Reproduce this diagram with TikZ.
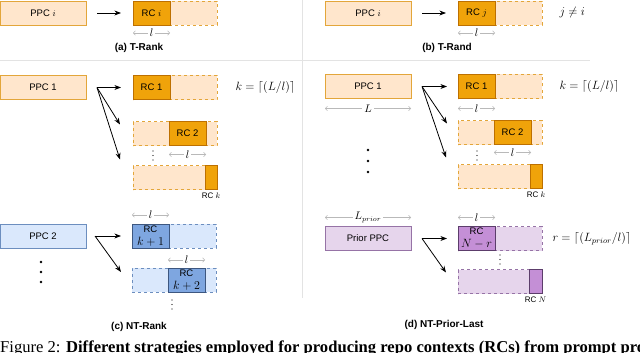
\documentclass[tikz,border=0pt]{standalone}
\usepackage{fontspec}
\setmainfont{Liberation Sans}
\newfontfamily\capfont{Liberation Serif}
\usetikzlibrary{arrows.meta,positioning,calc}
\definecolor{orpale}{HTML}{FFE6CC}
\definecolor{oredge}{HTML}{E3A63A}
\definecolor{ordeep}{HTML}{F0A30A}
\definecolor{ordeepedge}{HTML}{BD7000}
\definecolor{blpale}{HTML}{DAE8FC}
\definecolor{bledge}{HTML}{6C8EBF}
\definecolor{bldeep}{HTML}{7EA6E0}
\definecolor{bldeepedge}{HTML}{3D5780}
\definecolor{pupale}{HTML}{E6D5EC}
\definecolor{puedge}{HTML}{9673A6}
\definecolor{pudeep}{HTML}{C48FD6}
\definecolor{pudeepedge}{HTML}{5C3D6B}
\begin{document}
\begin{tikzpicture}[
  x=1pt, y=-1pt,
  >=Stealth,
  node distance=22pt and 47pt,
  every node/.style={font=\fontsize{9.5}{11}\selectfont},
  ppc/.style={draw=#1edge, fill=#1pale, line width=0.8pt, minimum width=86pt, minimum height=24pt, inner sep=0pt, outer sep=0pt},
  ppc/.default=or,
  rowbox/.style={ppc=#1, dashed, minimum width=84pt},
  rowbox/.default=or,
  rc/.style={draw=#1deepedge, fill=#1deep, line width=0.8pt, minimum width=37pt, minimum height=24pt, inner sep=0pt, outer sep=0pt, align=center, font=\fontsize{9.5}{13}\selectfont},
  rc/.default=or,
  big/.style={font=\fontsize{12}{12}\selectfont},
  small/.style={font=\fontsize{8}{9}\selectfont, inner sep=0pt},
  panel/.style={font=\bfseries\fontsize{10}{12}\selectfont},
  dimline/.style={draw=gray!55, line width=0.6pt, {Straight Barb[length=2pt,width=4.5pt]}-{Straight Barb[length=2pt,width=4.5pt]}},
  dimlab/.style={fill=white, inner sep=2pt, font=\fontsize{10.5}{11}\selectfont},
  divider/.style={draw=gray!22, line width=1pt}
]
\clip (0,0) rectangle (640,353);
\draw[divider] (0,61) -- (590,61);
\draw[divider] (302,0) -- (302,298);

\node[ppc] (ppcA) at (43,13) {PPC $i$};
\node[rowbox, right=of ppcA] (rowA) {};
\node[rc, anchor=west] (rcA) at (rowA.west) {RC $i$};
\draw[->, thick, shorten <=11pt, shorten >=12pt] (ppcA) -- (rowA);
\draw[dimline] ([yshift=-8pt]rcA.south west) -- node[dimlab] {$l$} ([yshift=-8pt]rcA.south east);
\node[panel] (capA) at (139,48) {(a) T-Rank};

\node[ppc] (ppcB) at (368,13) {PPC $i$};
\node[rowbox, right=of ppcB] (rowB) {};
\node[rc, anchor=west] (rcB) at (rowB.west) {RC $j$};
\draw[->, thick, shorten <=11pt, shorten >=12pt] (ppcB) -- (rowB);
\draw[dimline] ([yshift=-8pt]rcB.south west) -- node[dimlab] {$l$} ([yshift=-8pt]rcB.south east);
\node[big, right=14pt of rowB] (eqB) {$j\neq i$};
\node[panel] (capB) at (447,48) {(b) T-Rand};

\node[ppc] (ppcC1) at (43,87.5) {PPC 1};
\node[rowbox, right=of ppcC1] (rowC1) {};
\node[rc, anchor=west] (rcC1) at (rowC1.west) {RC 1};
\node[rowbox, below=22pt of rowC1] (rowC2) {};
\node[rc, anchor=east] (rcC2) at ([xshift=-11pt]rowC2.east) {RC 2};
\node[rowbox, below=20pt of rowC2] (rowC3) {};
\node[rc, anchor=east, minimum width=12pt] (rcC3) at (rowC3.east) {};
\node[small, below=3pt of rcC3] (labC3) {RC $k$};
\node[big, right=15pt of rowC1] (eqC) {$k=\lceil(L/l)\rceil$};
\coordinate[right=11pt of ppcC1] (fanC);
\coordinate (tipC2) at ([xshift=-13pt, yshift=9pt]rowC2.west);
\coordinate (tipC3) at ([xshift=-13pt, yshift=18pt]rowC3.west);
\draw[->, thick, shorten >=12pt] (fanC) -- (rowC1.west);
\draw[->, thick] (fanC) -- (tipC2);
\draw[->, thick] (fanC) -- (tipC3);
\draw[dimline] ([yshift=-9pt]rcC2.south west) -- node[dimlab] {$l$} ([yshift=-9pt]rcC2.south east);
\foreach \k in {0,1,2} \fill (153,151+4.5*\k) circle (0.55pt);

\node[ppc=bl] (ppcC4) at (43,236) {PPC 2};
\node[rowbox=bl, right=46pt of ppcC4] (rowC4) {};
\node[rc=bl, anchor=west] (rcC4) at (rowC4.west) {RC\\\fontsize{12}{13}\selectfont$k+1$};
\node[rowbox=bl, below=20pt of rowC4] (rowC5) {};
\node[rc=bl, anchor=east] (rcC5) at ([xshift=-11pt]rowC5.east) {RC\\\fontsize{12}{13}\selectfont$k+2$};
\coordinate[right=9pt of ppcC4] (fanC4);
\coordinate (tipC5) at ([xshift=-11pt, yshift=8pt]rowC5.west);
\draw[->, thick, shorten >=11pt] (fanC4) -- (rowC4.west);
\draw[->, thick] (fanC4) -- (tipC5);
\draw[dimline] ([yshift=9pt]rcC4.north west) -- node[dimlab] {$l$} ([yshift=9pt]rcC4.north east);
\draw[dimline] ([yshift=8pt]rcC5.north west) -- node[dimlab] {$l$} ([yshift=8pt]rcC5.north east);
\foreach \k in {0,1,2} \fill (41,262+10*\k) circle (1.3pt);
\foreach \k in {0,1,2} \fill (172,300+4.5*\k) circle (0.55pt);
\node[panel] (capC) at (139,327) {(c) NT-Rank};

\node[ppc] (ppcD1) at (368,86.5) {PPC 1};
\draw[dimline] ([yshift=-10pt]ppcD1.south west) -- node[dimlab] {$L$} ([yshift=-10pt]ppcD1.south east);
\node[rowbox, right=of ppcD1] (rowD1) {};
\node[rc, anchor=west] (rcD1) at (rowD1.west) {RC 1};
\node[rowbox, below=22pt of rowD1] (rowD2) {};
\node[rc, anchor=east] (rcD2) at ([xshift=-11pt]rowD2.east) {RC 2};
\node[rowbox, below=20pt of rowD2] (rowD3) {};
\node[rc, anchor=east, minimum width=12pt] (rcD3) at (rowD3.east) {};
\node[small, below=3pt of rcD3] (labD3) {RC $k$};
\node[big, right=14pt of rowD1] (eqD) {$k=\lceil(L/l)\rceil$};
\coordinate[right=11pt of ppcD1] (fanD);
\coordinate (tipD2) at ([xshift=-11pt, yshift=9pt]rowD2.west);
\coordinate (tipD3) at ([xshift=-12pt, yshift=19pt]rowD3.west);
\draw[->, thick, shorten >=11pt] (fanD) -- (rowD1.west);
\draw[->, thick] (fanD) -- (tipD2);
\draw[->, thick] (fanD) -- (tipD3);
\draw[dimline] ([yshift=-10pt]rcD1.south west) -- node[dimlab] {$l$} ([yshift=-10pt]rcD1.south east);
\draw[dimline] ([yshift=-8pt]rcD2.south west) -- node[dimlab] {$l$} ([yshift=-8pt]rcD2.south east);
\foreach \k in {0,1,2} \fill (477,151+4.5*\k) circle (0.55pt);
\foreach \k in {0,1,2} \fill (368,150+11*\k) circle (1.3pt);

\node[ppc=pu] (ppcD4) at (368,238.5) {Prior PPC};
\draw[dimline] ([yshift=9pt]ppcD4.north west) -- node[dimlab] {$L_{prior}$} ([yshift=9pt]ppcD4.north east);
\node[rowbox=pu, right=of ppcD4] (rowD4) {};
\node[rc=pu, anchor=west] (rcD4) at (rowD4.west) {RC\\\fontsize{12}{13}\selectfont$N-r$};
\node[rowbox=pu, below=19pt of rowD4] (rowD5) {};
\node[rc=pu, anchor=east, minimum width=13pt] (rcD5) at (rowD5.east) {};
\node[small, below=3pt of rcD5] (labD5) {RC $N$};
\node[big, right=7pt of rowD4] (eqD4) {$r=\lceil(L_{prior}/l)\rceil$};
\coordinate[right=11pt of ppcD4] (fanD4);
\coordinate (tipD5) at ([xshift=-12pt, yshift=9pt]rowD5.west);
\draw[->, thick, shorten >=11pt] (fanD4) -- (rowD4.west);
\draw[->, thick] (fanD4) -- (tipD5);
\draw[dimline] ([yshift=9pt]rcD4.north west) -- node[dimlab] {$l$} ([yshift=9pt]rcD4.north east);
\foreach \k in {0,1,2} \fill (500,255+4.5*\k) circle (0.55pt);
\node[panel] (capD) at (444,325) {(d) NT-Prior-Last};

\node[anchor=base west, inner sep=0pt, font=\capfont\fontsize{16.6}{18}\selectfont] (figcap) at (0,352) {Figure 2: \textbf{Different strategies employed for producing repo contexts (RCs) from prompt pro}};
\end{tikzpicture}
\end{document}
